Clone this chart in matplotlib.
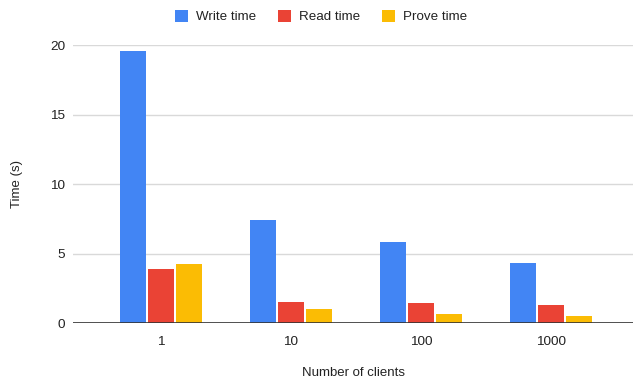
import matplotlib.pyplot as plt
import numpy as np

clients = ["1", "10", "100", "1000"]
write_time = [19.55, 7.40, 5.82, 4.31]
read_time = [3.88, 1.55, 1.44, 1.31]
prove_time = [4.26, 1.00, 0.67, 0.52]

series = ["Write time", "Read time", "Prove time"]
colors = ["#4285F4", "#EA4335", "#FBBC04"]

plt.rcParams['font.family'] = ['Liberation Sans', 'DejaVu Sans']

fig = plt.figure(figsize=(6.33, 3.83), dpi=100)
ax = fig.add_axes([73 / 633, 1 - 323.3 / 383, 560 / 633, (323.3 - 45) / 383])

x = np.arange(len(clients))
width = 0.197
step = 0.217
handles = []
for i, (vals, col) in enumerate(zip([write_time, read_time, prove_time], colors)):
    b = ax.bar(x + (i - 1) * step, vals, width, color=col, label=series[i], zorder=3)
    handles.append(b)

ax.set_xlim(-88 / 130, 3 + 82 / 130)
ax.set_ylim(0, 20)
ax.set_yticks([0, 5, 10, 15, 20])
ax.set_xticks(x)
ax.set_xticklabels(clients)

ax.yaxis.grid(True, color="#d9d9d9", linewidth=1, zorder=0)
ax.axhline(0, color="#333333", linewidth=1.2, zorder=4)
for s in ax.spines.values():
    s.set_visible(False)
ax.tick_params(axis="both", length=0, labelsize=9.7, colors="#222222")
ax.tick_params(axis="y", pad=5.5)
ax.tick_params(axis="x", pad=9)

ax.set_ylabel("Time (s)", fontsize=9.5, color="#222222")
ax.yaxis.set_label_coords(-50 / 560, 0.5)
ax.set_xlabel("Number of clients", fontsize=9.5, color="#222222", va="center")
ax.xaxis.set_label_coords((353 - 73) / 560, -(373 - 323.3) / (323.3 - 45))

fig.legend(handles=handles, labels=series, loc="center", bbox_to_anchor=(321 / 633, 1 - 16.5 / 383),
           ncol=3, frameon=False, fontsize=9.6, handlelength=1.0, handleheight=1.0,
           handletextpad=0.6, columnspacing=1.6, labelcolor="#222222")

fig.savefig("out.png", dpi=100)
